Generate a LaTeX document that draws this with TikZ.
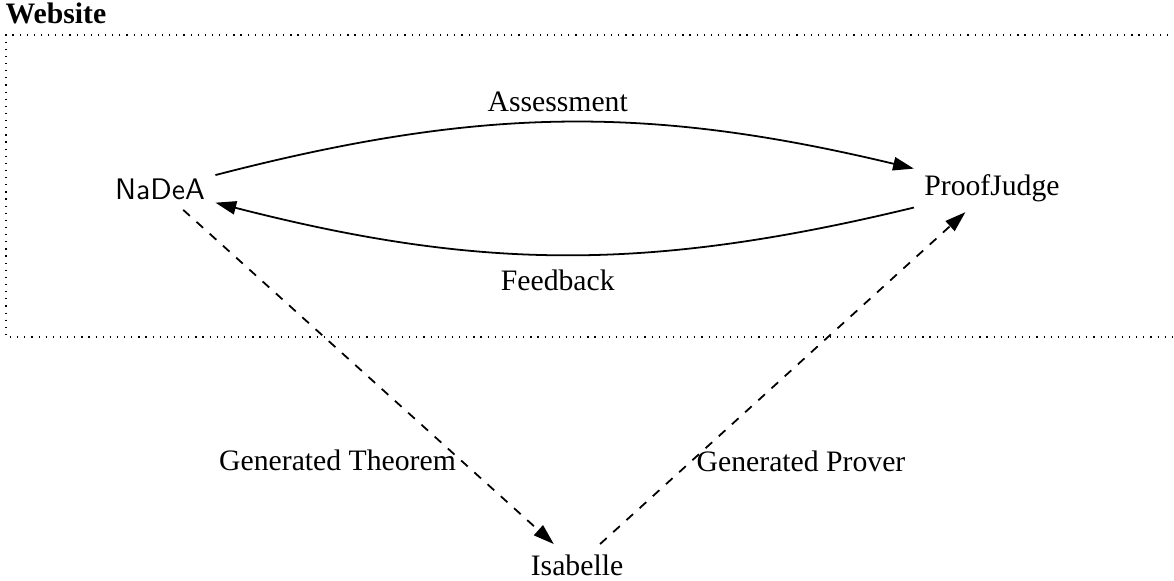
\documentclass[tikz,border=0pt]{standalone}
\usepackage{fontspec}
\setmainfont{Liberation Serif}
\usetikzlibrary{positioning}
\usetikzlibrary{arrows.meta}

\begin{document}
\begin{tikzpicture}[>={Triangle[length=7pt,width=4.5pt]},
		edge/.style={->,semithick},
		gen/.style={->,semithick,dashed}]
		\useasboundingbox (0,0) rectangle (13.894,6.876);

		% the website part
		\draw[dotted] (14.5,6.462) -- (0.071,6.462) -- (0.071,2.888) -- (14.5,2.888);
		\node[anchor=base west,inner sep=0] (web) at (0.06,6.592) {\textbf{Website}};

		\node (nadea) at (1.894,4.64) {\textsf{NaDeA}};
		\node (judge) at (11.74,4.651) {ProofJudge};
		\node (isabelle) at (6.829,0.189) {Isabelle};

		\draw [edge] (nadea) to[bend left=14] node[above,pos=0.49] {Assessment} (judge);
		\draw [edge] (judge) to[bend left=14] node[below=1.5pt,pos=0.51] {Feedback} (nadea);

		\draw [gen] (nadea) -- node[left,inner sep=1.5pt,pos=0.75] {Generated Theorem} (isabelle);
		\draw [gen] (isabelle) -- node[right,inner sep=1.5pt,pos=0.25] {Generated Prover} (judge);
	\end{tikzpicture}
\end{document}
